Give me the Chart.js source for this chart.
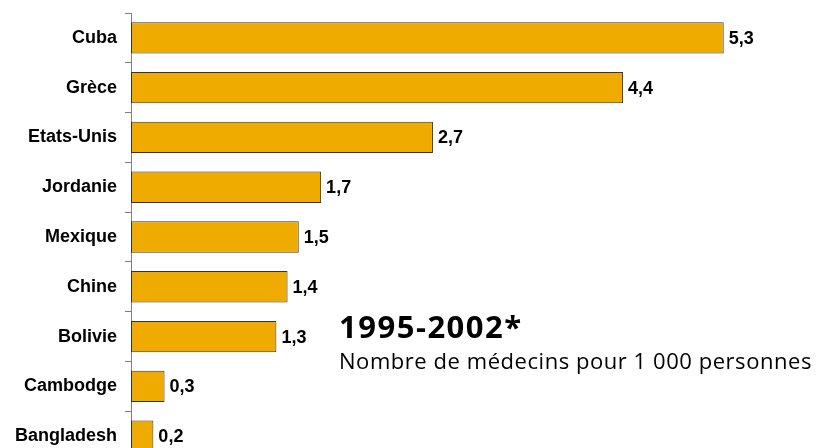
<!DOCTYPE html>
<html>
<head>
<meta charset="utf-8">
<script src="https://cdn.jsdelivr.net/npm/chart.js@4"></script>
<style>
html, body { margin: 0; padding: 0; overflow: hidden; background: #fff; }
#wrap { position: relative; width: 817px; height: 472px; }
</style>
</head>
<body>
<div id="wrap"><canvas id="c"></canvas></div>
<script>
// données
const pays = ['Cuba', 'Grèce', 'Etats-Unis', 'Jordanie', 'Mexique', 'Chine', 'Bolivie', 'Cambodge', 'Bangladesh'];
const medecins = [5.3, 4.4, 2.7, 1.7, 1.5, 1.4, 1.3, 0.3, 0.2];
const xMax = 6;
const titre = '1995-2002*';
const sousTitre = 'Nombre de médecins pour 1 000 personnes';

const BAR_COLOR = '#F0AB00';
const AXIS_COLOR = '#808080';

// étiquettes de valeur à droite des barres (virgule décimale)
const valueLabels = {
    id: 'valueLabels',
    afterDatasetsDraw(chart) {
        const ctx = chart.ctx;
        const meta = chart.getDatasetMeta(0);
        ctx.save();
        ctx.font = 'bold 18px "Liberation Sans", Arial, sans-serif';
        ctx.fillStyle = '#000';
        ctx.textAlign = 'left';
        ctx.textBaseline = 'middle';
        meta.data.forEach((bar, i) => {
            const txt = medecins[i].toFixed(1).replace('.', ',');
            ctx.fillText(txt, bar.x + 5, bar.y + 1);
        });
        ctx.restore();
    }
};

// titre et légende dans la zone vide
const annotation = {
    id: 'annotation',
    afterDraw(chart) {
        const ctx = chart.ctx;
        ctx.save();
        ctx.fillStyle = '#000';
        ctx.textAlign = 'left';
        ctx.textBaseline = 'alphabetic';
        ctx.font = 'bold 31px "Open Sans", sans-serif';
        ctx.letterSpacing = '1.5px';
        ctx.fillText(titre, 339, 338);
        ctx.font = '22px "Open Sans", sans-serif';
        ctx.letterSpacing = '0.55px';
        ctx.fillText(sousTitre, 339, 369);
        ctx.restore();
    }
};

new Chart(document.getElementById('c'), {
    type: 'bar',
    data: {
        labels: pays,
        datasets: [{
            data: medecins,
            backgroundColor: BAR_COLOR,
            borderColor: '#333',
            borderWidth: 1,
            borderSkipped: false,
            barPercentage: 0.63,
            categoryPercentage: 1
        }]
    },
    options: {
        indexAxis: 'y',
        responsive: true,
        maintainAspectRatio: false,
        animation: false,
        layout: { padding: { top: 13, right: 15, bottom: 11, left: 0 } },
        plugins: { legend: { display: false }, tooltip: { enabled: false } },
        scales: {
            x: { display: false, min: 0, max: xMax },
            y: {
                afterFit(scale) {
                    scale.width = 131;
                    scale.paddingTop = 0;
                    scale.paddingBottom = 0;
                },
                grid: { drawOnChartArea: false, drawTicks: true, tickLength: 6, color: AXIS_COLOR },
                border: { display: true, color: AXIS_COLOR, width: 1 },
                ticks: {
                    color: '#000',
                    padding: 8,
                    font: { family: '"Liberation Sans", Arial, sans-serif', size: 18, weight: 'bold' }
                }
            }
        }
    },
    plugins: [valueLabels, annotation]
});
</script>
</body>
</html>
